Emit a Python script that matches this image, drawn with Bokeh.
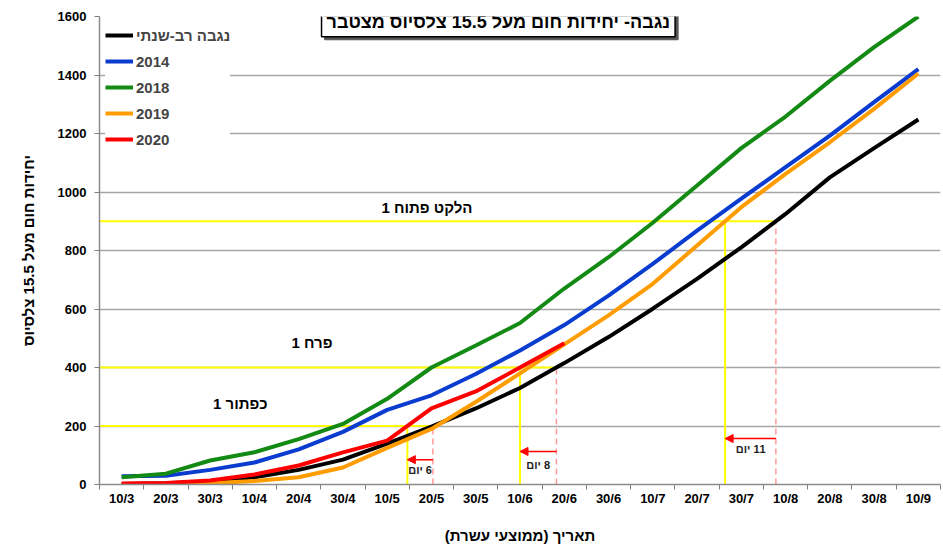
import numpy as np
from bokeh.plotting import figure
from bokeh.models import (Range1d, FixedTicker, Legend, LegendItem, Label, Arrow,
                          NormalHead, ColumnDataSource, LabelSet)
from bokeh.core.properties import value
from bokeh.embed import file_html
from bokeh.resources import INLINE

# ---------------- data ----------------
dates = ["10/3", "20/3", "30/3", "10/4", "20/4", "30/4", "10/5", "20/5", "30/5", "10/6",
         "20/6", "30/6", "10/7", "20/7", "30/7", "10/8", "20/8", "30/8", "10/9"]
multi_year = [2, 4, 10, 25, 50, 85, 140, 198, 260, 330, 415, 504, 601, 703, 811, 925, 1050, 1150, 1248]
y2014 = [28, 30, 50, 75, 120, 180, 255, 305, 378, 458, 545, 646, 754, 868, 977, 1085, 1193, 1307, 1420]
y2018 = [25, 37, 82, 110, 155, 207, 293, 400, 475, 552, 670, 777, 895, 1022, 1150, 1258, 1380, 1495, 1600]
y2019 = [0, 1, 4, 12, 25, 58, 125, 190, 282, 380, 479, 578, 686, 817, 948, 1062, 1170, 1284, 1405]
y2020 = [3, 5, 14, 34, 65, 110, 150, 260, 318, 400, 483]

series_names = ["נגבה רב-שנתי", "2014", "2018", "2019", "2020"]
series_colors = ["#000000", "#0a3ccf", "#138a13", "#ff9c00", "#ff0000"]

stage_names = ["כפתור 1", "פרח 1", "הלקט פתוח 1"]
stage_units = [200, 400, 900]
stage_series = [y2020, y2020, y2019]      # the season compared with the multi-year mean
day_gaps = [6, 8, 11]

y_ticks = [0, 200, 400, 600, 800, 1000, 1200, 1400, 1600]

FONT = "Liberation Sans"


def crossing(series, level):
    s = np.asarray(series, dtype=float)
    return float(np.interp(level, s, np.arange(len(s))))


x_all = list(range(len(dates)))

p = figure(width=942, height=550,
           x_range=Range1d(-0.5, 18.5), y_range=Range1d(0, 1600),
           output_backend="svg", toolbar_location=None,
           min_border_left=99, min_border_right=2, min_border_top=16, min_border_bottom=66)
p.outline_line_color = None
p.background_fill_color = "white"

# axes
p.xaxis.ticker = FixedTicker(ticks=x_all, minor_ticks=[i - 0.5 for i in range(len(dates) + 1)])
p.xaxis.major_label_overrides = {i: d for i, d in enumerate(dates)}
p.xaxis.major_tick_line_color = None
p.xaxis.major_tick_out = 0
p.xaxis.major_tick_in = 0
p.xaxis.minor_tick_line_color = "#808080"
p.xaxis.minor_tick_out = 5
p.xaxis.minor_tick_in = 0
p.xaxis.major_label_standoff = 1
p.xaxis.axis_label = "\u200fתאריך (ממוצעי עשרת)\u200f"
p.xaxis.axis_label_standoff = 18

p.yaxis.ticker = FixedTicker(ticks=y_ticks, minor_ticks=[])
p.yaxis.major_tick_out = 5
p.yaxis.major_tick_in = 0
p.yaxis.major_tick_line_color = "#808080"
p.yaxis.major_label_standoff = 8
p.yaxis.axis_label = "יחידות חום מעל 15.5 צלסיוס"
p.yaxis.axis_label_standoff = 18

for ax in (p.xaxis[0], p.yaxis[0]):
    ax.axis_line_color = "#8c8c8c"
    ax.axis_line_width = 1.5
    ax.major_label_text_font = FONT
    ax.major_label_text_font_style = "bold"
    ax.major_label_text_font_size = "13px"
    ax.major_label_text_color = "#000000"
    ax.axis_label_text_font = FONT
    ax.axis_label_text_font_style = "bold"
    ax.axis_label_text_font_size = "15px"
    ax.axis_label_text_color = "#000000"

p.xgrid.visible = False
p.ygrid.ticker = FixedTicker(ticks=y_ticks)
p.ygrid.grid_line_color = "#a6a6a6"
p.ygrid.grid_line_width = 1.5

# threshold guides
my_cross = [crossing(multi_year, u) for u in stage_units]
season_cross = [crossing(s, u) for s, u in zip(stage_series, stage_units)]

p.segment(x0=[-0.5] * 3, y0=stage_units, x1=my_cross, y1=stage_units,
          line_color="#ffff00", line_width=2)
p.segment(x0=season_cross, y0=[0] * 3, x1=season_cross, y1=stage_units,
          line_color="#ffff00", line_width=2)
p.segment(x0=my_cross, y0=[0] * 3, x1=my_cross, y1=stage_units,
          line_color="#ff9a9a", line_width=1.5, line_dash="6 4")

# series lines
renderers = []
for vals, col in zip([multi_year, y2014, y2018, y2019, y2020], series_colors):
    r = p.line(x_all[:len(vals)], vals, line_color=col, line_width=4)
    renderers.append(r)

legend = Legend(items=[LegendItem(label=n, renderers=[r]) for n, r in zip(series_names, renderers)],
                location=(6, 335), margin=0, padding=8, spacing=6,
                glyph_width=28, glyph_height=20, label_height=20, label_standoff=3,
                label_text_font=FONT, label_text_font_style="bold", label_text_font_size="15px",
                border_line_color=None, background_fill_color="white", background_fill_alpha=1.0)
p.add_layout(legend)

# arrows between the multi-year crossing and the season crossing
arrow_y = [85, 113, 157]
day_label_y = [48, 68, 120]
asrc = ColumnDataSource(dict(x0=my_cross, x1=season_cross, y=arrow_y))
p.add_layout(Arrow(end=NormalHead(size=8, fill_color="#ff0000", line_color="#ff0000"),
                   x_start="x0", y_start="y", x_end="x1", y_end="y",
                   line_color="#ff0000", line_width=1.5, source=asrc))
dsrc = ColumnDataSource(dict(x=[(a + b) / 2 for a, b in zip(my_cross, season_cross)],
                             y=day_label_y,
                             t=["\u200f%d יום" % d for d in day_gaps]))
p.add_layout(LabelSet(x="x", y="y", text="t", source=dsrc, text_align="center",
                      text_baseline="middle", text_font=value(FONT), text_font_style="bold",
                      text_font_size="11px", text_color="#222222"))

# stage names
stage_label_x = [2.68, 4.3, 6.9]
stage_label_y = [277, 486, 947]
ssrc = ColumnDataSource(dict(x=stage_label_x, y=stage_label_y, t=stage_names))
p.add_layout(LabelSet(x="x", y="y", text="t", source=ssrc, text_align="center",
                      text_baseline="middle", text_font=value(FONT), text_font_style="bold",
                      text_font_size="15px", text_color="#000000"))

# title box
title_text = "נגבה- יחידות חום מעל 15.5 צלסיוס מצטבר"
shadow = Label(x=8.51, y=1582, text=title_text, text_align="center", text_baseline="middle",
               text_font=FONT, text_font_style="bold", text_font_size="18px",
               text_color="#555555", background_fill_color="#555555",
               border_line_color="#555555", padding=5, x_offset=3, y_offset=-3)
title = Label(x=8.51, y=1582, text=title_text, text_align="center", text_baseline="middle",
              text_font=FONT, text_font_style="bold", text_font_size="18px",
              text_color="#000000", background_fill_color="white",
              border_line_color="#000000", border_line_width=1.5, padding=5)
p.add_layout(shadow)
p.add_layout(title)

open("out.html", "w").write(file_html(p, INLINE))
